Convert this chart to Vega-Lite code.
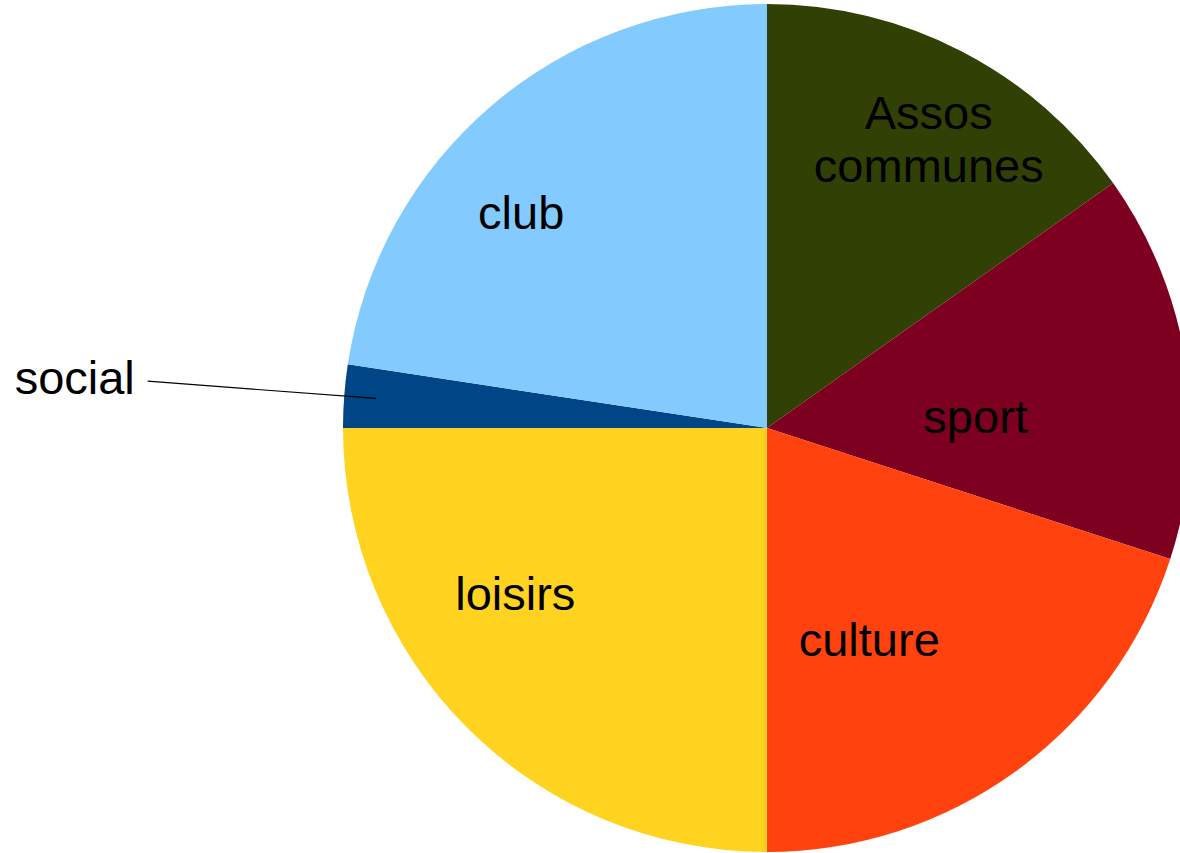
{
  "$schema": "https://vega.github.io/schema/vega-lite/v6.json",
  "width": 826,
  "height": 848,
  "autosize": {"type": "none"},
  "padding": {"left": 354, "top": 4, "right": 0, "bottom": 1},
  "background": "white",
  "config": {"view": {"stroke": null}},
  "data": {
    "values": [
      {"category": "Assos communes", "share": 15.2, "rank": 1},
      {"category": "sport", "share": 14.8, "rank": 2},
      {"category": "culture", "share": 20.0, "rank": 3},
      {"category": "loisirs", "share": 25.0, "rank": 4},
      {"category": "social", "share": 2.4, "rank": 5},
      {"category": "club", "share": 22.6, "rank": 6}
    ]
  },
  "encoding": {
    "theta": {"field": "share", "type": "quantitative", "stack": true},
    "order": {"field": "rank", "type": "quantitative", "sort": "ascending"},
    "detail": {"field": "category", "type": "nominal"}
  },
  "layer": [
    {
      "mark": {"type": "arc", "radius": 424},
      "encoding": {
        "color": {
          "field": "category",
          "type": "nominal",
          "scale": {
            "domain": ["Assos communes", "sport", "culture", "loisirs", "social", "club"],
            "range": ["#314004", "#7e0021", "#ff420e", "#ffd320", "#004586", "#83caff"]
          },
          "legend": null
        }
      }
    },
    {
      "mark": {"type": "arc", "radius": 621, "radius2": 392, "padAngle": 1, "fillOpacity": 0, "stroke": "black", "strokeWidth": 1.2},
      "encoding": {
        "strokeOpacity": {"condition": {"test": "datum.category === 'social'", "value": 1}, "value": 0}
      }
    },
    {
      "mark": {"type": "text", "font": "Liberation Sans", "fontSize": 47, "lineBreak": " ", "lineHeight": 53, "color": "black", "align": "center", "baseline": "middle", "radius": 352},
      "encoding": {
        "text": {"field": "category", "type": "nominal"},
        "opacity": {"condition": {"test": "datum.category === 'Assos communes'", "value": 1}, "value": 0}
      }
    },
    {
      "mark": {"type": "text", "font": "Liberation Sans", "fontSize": 47, "color": "black", "align": "center", "baseline": "top", "radius": 211},
      "encoding": {
        "text": {"field": "category", "type": "nominal"},
        "opacity": {"condition": {"test": "datum.category === 'sport'", "value": 1}, "value": 0}
      }
    },
    {
      "mark": {"type": "text", "font": "Liberation Sans", "fontSize": 47, "color": "black", "align": "right", "baseline": "bottom", "radius": 294},
      "encoding": {
        "text": {"field": "category", "type": "nominal"},
        "opacity": {"condition": {"test": "datum.category === 'culture'", "value": 1}, "value": 0}
      }
    },
    {
      "mark": {"type": "text", "font": "Liberation Sans", "fontSize": 47, "color": "black", "align": "right", "baseline": "bottom", "radius": 271},
      "encoding": {
        "text": {"field": "category", "type": "nominal"},
        "opacity": {"condition": {"test": "datum.category === 'loisirs'", "value": 1}, "value": 0}
      }
    },
    {
      "mark": {"type": "text", "font": "Liberation Sans", "fontSize": 47, "color": "black", "align": "right", "baseline": "top", "radius": 311},
      "encoding": {
        "text": {"field": "category", "type": "nominal"},
        "opacity": {"condition": {"test": "datum.category === 'club'", "value": 1}, "value": 0}
      }
    },
    {
      "mark": {"type": "text", "font": "Liberation Sans", "fontSize": 47, "color": "black", "align": "right", "baseline": "middle", "radius": 634},
      "encoding": {
        "text": {"field": "category", "type": "nominal"},
        "opacity": {"condition": {"test": "datum.category === 'social'", "value": 1}, "value": 0}
      }
    }
  ]
}
